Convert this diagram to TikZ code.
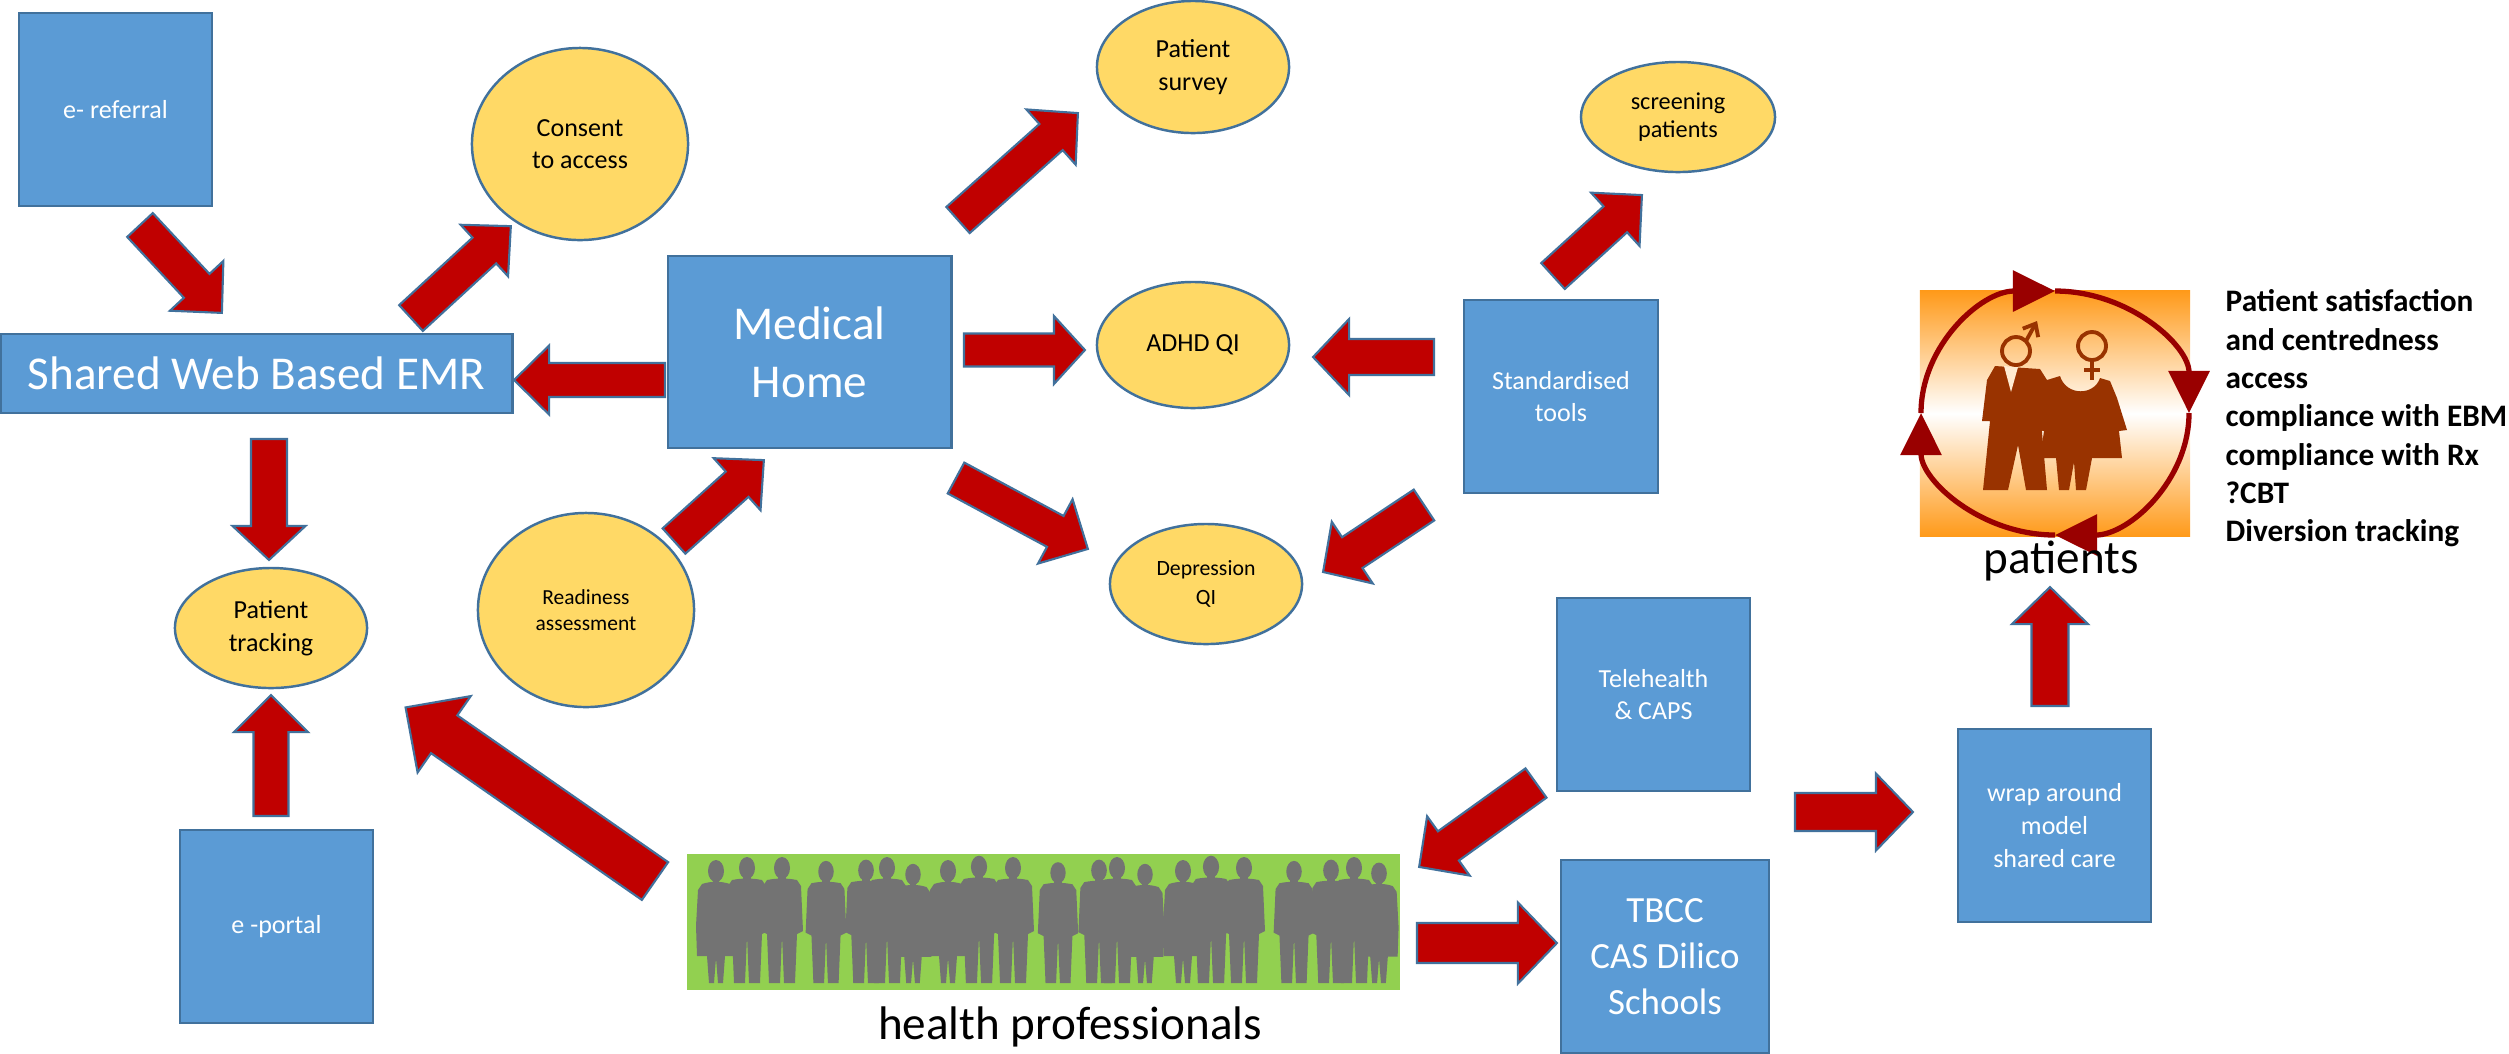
\documentclass[tikz,border=0pt]{standalone}
\usepackage{fontspec}
\setmainfont{Carlito}
\usetikzlibrary{shapes.geometric,arrows.meta,calc}
\definecolor{boxblue}{HTML}{5B9BD5}
\definecolor{boxedge}{HTML}{41719C}
\definecolor{yelfill}{HTML}{FFD966}
\definecolor{ared}{HTML}{C00000}
\definecolor{hpgreen}{HTML}{92D050}
\definecolor{hpgray}{HTML}{737373}
\definecolor{porange}{HTML}{FF9A1A}
\definecolor{pbrown}{HTML}{993300}
\definecolor{cred}{HTML}{990000}
\newcommand\dgfA{\fontsize{7.4pt}{9.3pt}\selectfont}
\newcommand\dgfRd{\fontsize{6.1pt}{7.2pt}\selectfont}
\newcommand\dgfDp{\fontsize{6.2pt}{8.2pt}\selectfont}
\newcommand\dgfSc{\fontsize{6.9pt}{8pt}\selectfont}
\newcommand\dgfL{\fontsize{13.4pt}{16.5pt}\selectfont}
\newcommand\dgfT{\fontsize{10.5pt}{13.1pt}\selectfont}
\newcommand\dgfB{\fontsize{8.9pt}{10.9pt}\selectfont\bfseries}
% block arrow: tail, tip, shaft width, head width, head length (px units)
\newcommand\barrow[5]{%
  \pgfpointdiff{\pgfpointanchor{#1}{center}}{\pgfpointanchor{#2}{center}}%
  \pgfgetlastxy{\barAx}{\barAy}%
  \pgfmathsetmacro\barAng{atan2(\barAy,\barAx)}%
  \pgfmathsetmacro\barLen{veclen(\barAx,\barAy)/0.284528}%
  \begin{scope}[shift={(#1)},rotate=\barAng]
    \draw[barr] (0,{#3/2}) -- ({\barLen-#5},{#3/2}) -- ({\barLen-#5},{#4/2})
      -- (\barLen,0) -- ({\barLen-#5},{-#4/2}) -- ({\barLen-#5},{-#3/2})
      -- (0,{-#3/2}) -- cycle;
  \end{scope}}
\begin{document}
\begin{tikzpicture}[x=0.01cm,y=-0.01cm,
  bbox/.style={draw=boxedge, fill=boxblue, line width=0.8pt, text=white, align=center, inner sep=0pt, font=\dgfA},
  yel/.style={ellipse, draw=boxedge, fill=yelfill, line width=0.7pt, align=center, inner sep=0pt, font=\dgfA},
  barr/.style={draw=boxedge, fill=ared, line width=0.6pt, line join=miter},
  circarr/.style={draw=cred, line width=1.5pt, -{Triangle[length=12pt,width=11.5pt]}},
  personm/.pic={
    \fill[hpgray] (0,-118) ellipse[x radius=8, y radius=11];
    \fill[hpgray] (-4,-110) rectangle (4,-102);
    \fill[hpgray] (-15,-106) .. controls (-5,-108) and (5,-108) .. (15,-106) -- (19,-100) -- (21,-55)
      -- (15,-52) -- (13,-3) -- (2,-3) -- (0,-50) -- (-2,-3) -- (-13,-3) -- (-15,-52) -- (-21,-55)
      -- (-19,-100) -- cycle;
  },
  personw/.pic={
    \fill[hpgray] (0,-115) ellipse[x radius=8, y radius=11];
    \fill[hpgray] (-3,-107) rectangle (3,-99);
    \fill[hpgray] (-14,-102) .. controls (-5,-105) and (5,-105) .. (14,-102) -- (18,-96) -- (20,-60)
      -- (19,-30) -- (9,-30) -- (7,-3) -- (2,-3) -- (0,-28) -- (-2,-3) -- (-7,-3) -- (-9,-30)
      -- (-19,-30) -- (-20,-60) -- (-18,-96) -- cycle;
  }]
\useasboundingbox (0,0) rectangle (2509,1053);
\fill[white] (0,0) rectangle (2509,1053);

% ---- nodes ----
\node[bbox, minimum width=1.93cm, minimum height=1.93cm] (eref) at (115.5,109.5) {e- referral};
\node[yel, minimum width=2.16cm, minimum height=1.92cm] (consent) at (580,144) {Consent\\to access};
\node[bbox, minimum width=5.11cm, minimum height=0.79cm, font=\dgfL] (emr) at (256.5,373.5) {Shared Web Based EMR};
\node[bbox, minimum width=2.83cm, minimum height=1.92cm, font=\dgfL] (mh) at (809.5,352) {Medical\\Home};
\node[yel, minimum width=1.92cm, minimum height=1.32cm] (survey) at (1193,67) {Patient\\survey};
\node[yel, minimum width=1.92cm, minimum height=1.26cm] (adhd) at (1193,345) {ADHD QI};
\node[yel, minimum width=1.94cm, minimum height=1.10cm, font=\dgfSc] (screen) at (1678,117) {screening\\patients};
\node[bbox, minimum width=1.94cm, minimum height=1.93cm] (std) at (1561,396.5) {Standardised\\tools};
\node[yel, minimum width=1.92cm, minimum height=1.20cm, font=\dgfDp] (depr) at (1206,584) {Depression\\QI};
\node[yel, minimum width=1.92cm, minimum height=1.20cm] (track) at (271,628) {Patient\\tracking};
\node[yel, minimum width=2.16cm, minimum height=1.94cm, font=\dgfRd] (ready) at (586,610) {Readiness\\assessment};
\node[bbox, minimum width=1.93cm, minimum height=1.93cm] (eportal) at (276.5,926.5) {e -portal};
\node[bbox, minimum width=1.93cm, minimum height=1.93cm] (tele) at (1653.5,694.5) {Telehealth\\\& CAPS};
\node[bbox, minimum width=2.08cm, minimum height=1.93cm, font=\dgfT] (tbcc) at (1665,956.5) {TBCC\\CAS Dilico\\Schools};
\node[bbox, minimum width=1.93cm, minimum height=1.93cm] (wrap) at (2054.5,825.5) {wrap around\\model\\shared care};

% health professionals picture
\node[fill=hpgreen, inner sep=0pt, minimum width=7.13cm, minimum height=1.36cm] (hp) at (1043.5,922) {};
\foreach \px/\ps/\pt in {716/1.0/w, 747/1.0/m, 782/1.0/m, 826/0.97/m, 866/0.98/m, 887/1.0/m,
  913/0.97/w, 948/1.0/w, 979/1.01/m, 1013/1.0/m, 1058/0.96/m, 1099/0.98/m, 1117/1.0/m,
  1145/0.97/w, 1183/1.0/w, 1211/1.01/m, 1244/1.0/m, 1294/0.97/m, 1331/0.98/m, 1354/1.0/m, 1379/0.98/w}
  {\pic[scale=\ps] at (\px,986) {person\pt};}
\node[font=\dgfL, inner sep=0pt] (hplabel) at (1070,1027) {health professionals};

% patients picture
\node[inner sep=0pt, minimum width=2.70cm, minimum height=2.45cm, top color=porange, bottom color=porange, middle color=white] (patimg) at (2055,413.5) {};
\coordinate (pcB) at (2055,535);
\coordinate (pcL) at (1921,413);
\coordinate (pcT) at (2055,291);
\coordinate (pcR) at (2189,413);
\draw[circarr] (pcB) .. controls (1981,535) and (1921,480.4) .. (pcL);
\draw[circarr] (pcL) .. controls (1921,345.6) and (1981,291) .. (pcT);
\draw[circarr] (pcT) .. controls (2129,291) and (2189,345.6) .. (pcR);
\draw[circarr] (pcR) .. controls (2189,480.4) and (2129,535) .. (pcB);
% man
\fill[pbrown] (1995,366) -- (2040,369) -- (2047,380) -- (2049,421) -- (2041,421) -- (2047,490)
  -- (2026,490) -- (2018,445) -- (2008,490) -- (1983,490) -- (1990,421) -- (1982,421) -- (1987,380) -- cycle;
\fill[porange!20!white] (2004,366) -- (2011,392) -- (2018,367) -- cycle;
% woman
\fill[pbrown] (2047,380) -- (2060,376) .. controls (2066,396) and (2094,396) .. (2100,378) -- (2110,381)
  -- (2117,398) -- (2127,430) -- (2119,431) -- (2122,458) -- (2092,458) -- (2086,490) -- (2076,490)
  -- (2074,462) -- (2069,490) -- (2059,490) -- (2056,458) -- (2040,458) -- (2044,431) -- (2038,430)
  -- (2045,398) -- cycle;
% gender symbols
\draw[pbrown, line width=1.1pt] (2016,351) circle[radius=14];
\draw[pbrown, line width=1.1pt, -{Straight Barb[length=3pt,width=5pt]}] (2026,341) -- (2037,321);
\draw[pbrown, line width=1.1pt] (2092,346) circle[radius=14];
\draw[pbrown, line width=1.1pt] (2092,360) -- (2092,380) (2084,370) -- (2100,370);
\node[font=\dgfL, inner sep=0pt] (patlabel) at (2061,561) {patients};

\node[anchor=north west, inner sep=0pt, align=left, font=\dgfB] (outcomes) at (2225,289)
  {Patient satisfaction\\and centredness\\access\\compliance with EBM\\compliance with Rx\\?CBT\\Diversion tracking};

% ---- block arrows ----
\coordinate (a1t) at (140,225);   \coordinate (a1h) at (222,313);
\coordinate (a2t) at (411,318);   \coordinate (a2h) at (511,226);
\coordinate (a3t) at (665,380);   \coordinate (a3h) at (514,380);
\coordinate (a4t) at (269,439);   \coordinate (a4h) at (269,560);
\coordinate (a5t) at (271,816);   \coordinate (a5h) at (271,695);
\coordinate (a6t) at (674,541);   \coordinate (a6h) at (764,460);
\coordinate (a7t) at (958,220);   \coordinate (a7h) at (1078,113);
\coordinate (a8t) at (964,350);   \coordinate (a8h) at (1085,350);
\coordinate (a9t) at (1434,357);  \coordinate (a9h) at (1313,357);
\coordinate (a10t) at (1553,276); \coordinate (a10h) at (1642,195);
\coordinate (a11t) at (956,478);  \coordinate (a11h) at (1088,549);
\coordinate (a12t) at (1424,505); \coordinate (a12h) at (1323,572);
\coordinate (a13t) at (655,881);  \coordinate (a13h) at (405,707);
\coordinate (a14t) at (1536,783); \coordinate (a14h) at (1419,867);
\coordinate (a15t) at (1417,943); \coordinate (a15h) at (1557,943);
\coordinate (a16t) at (1795,812); \coordinate (a16h) at (1913,812);
\coordinate (a17t) at (2050,706); \coordinate (a17h) at (2050,587);
\barrow{a1t}{a1h}{35}{73}{37}
\barrow{a2t}{a2h}{35}{70}{36}
\barrow{a3t}{a3h}{34}{69}{35}
\barrow{a4t}{a4h}{36}{73}{34}
\barrow{a5t}{a5h}{35}{74}{37}
\barrow{a6t}{a6h}{34}{70}{36}
\barrow{a7t}{a7h}{35}{74}{36}
\barrow{a8t}{a8h}{33}{68}{31}
\barrow{a9t}{a9h}{36}{76}{36}
\barrow{a10t}{a10h}{35}{72}{36}
\barrow{a11t}{a11h}{35}{73}{37}
\barrow{a12t}{a12h}{37}{74}{35}
\barrow{a13t}{a13h}{46}{93}{47}
\barrow{a14t}{a14h}{36}{73}{36}
\barrow{a15t}{a15h}{40}{81}{39}
\barrow{a16t}{a16h}{38}{77}{37}
\barrow{a17t}{a17h}{37}{76}{37}
\end{tikzpicture}
\end{document}
